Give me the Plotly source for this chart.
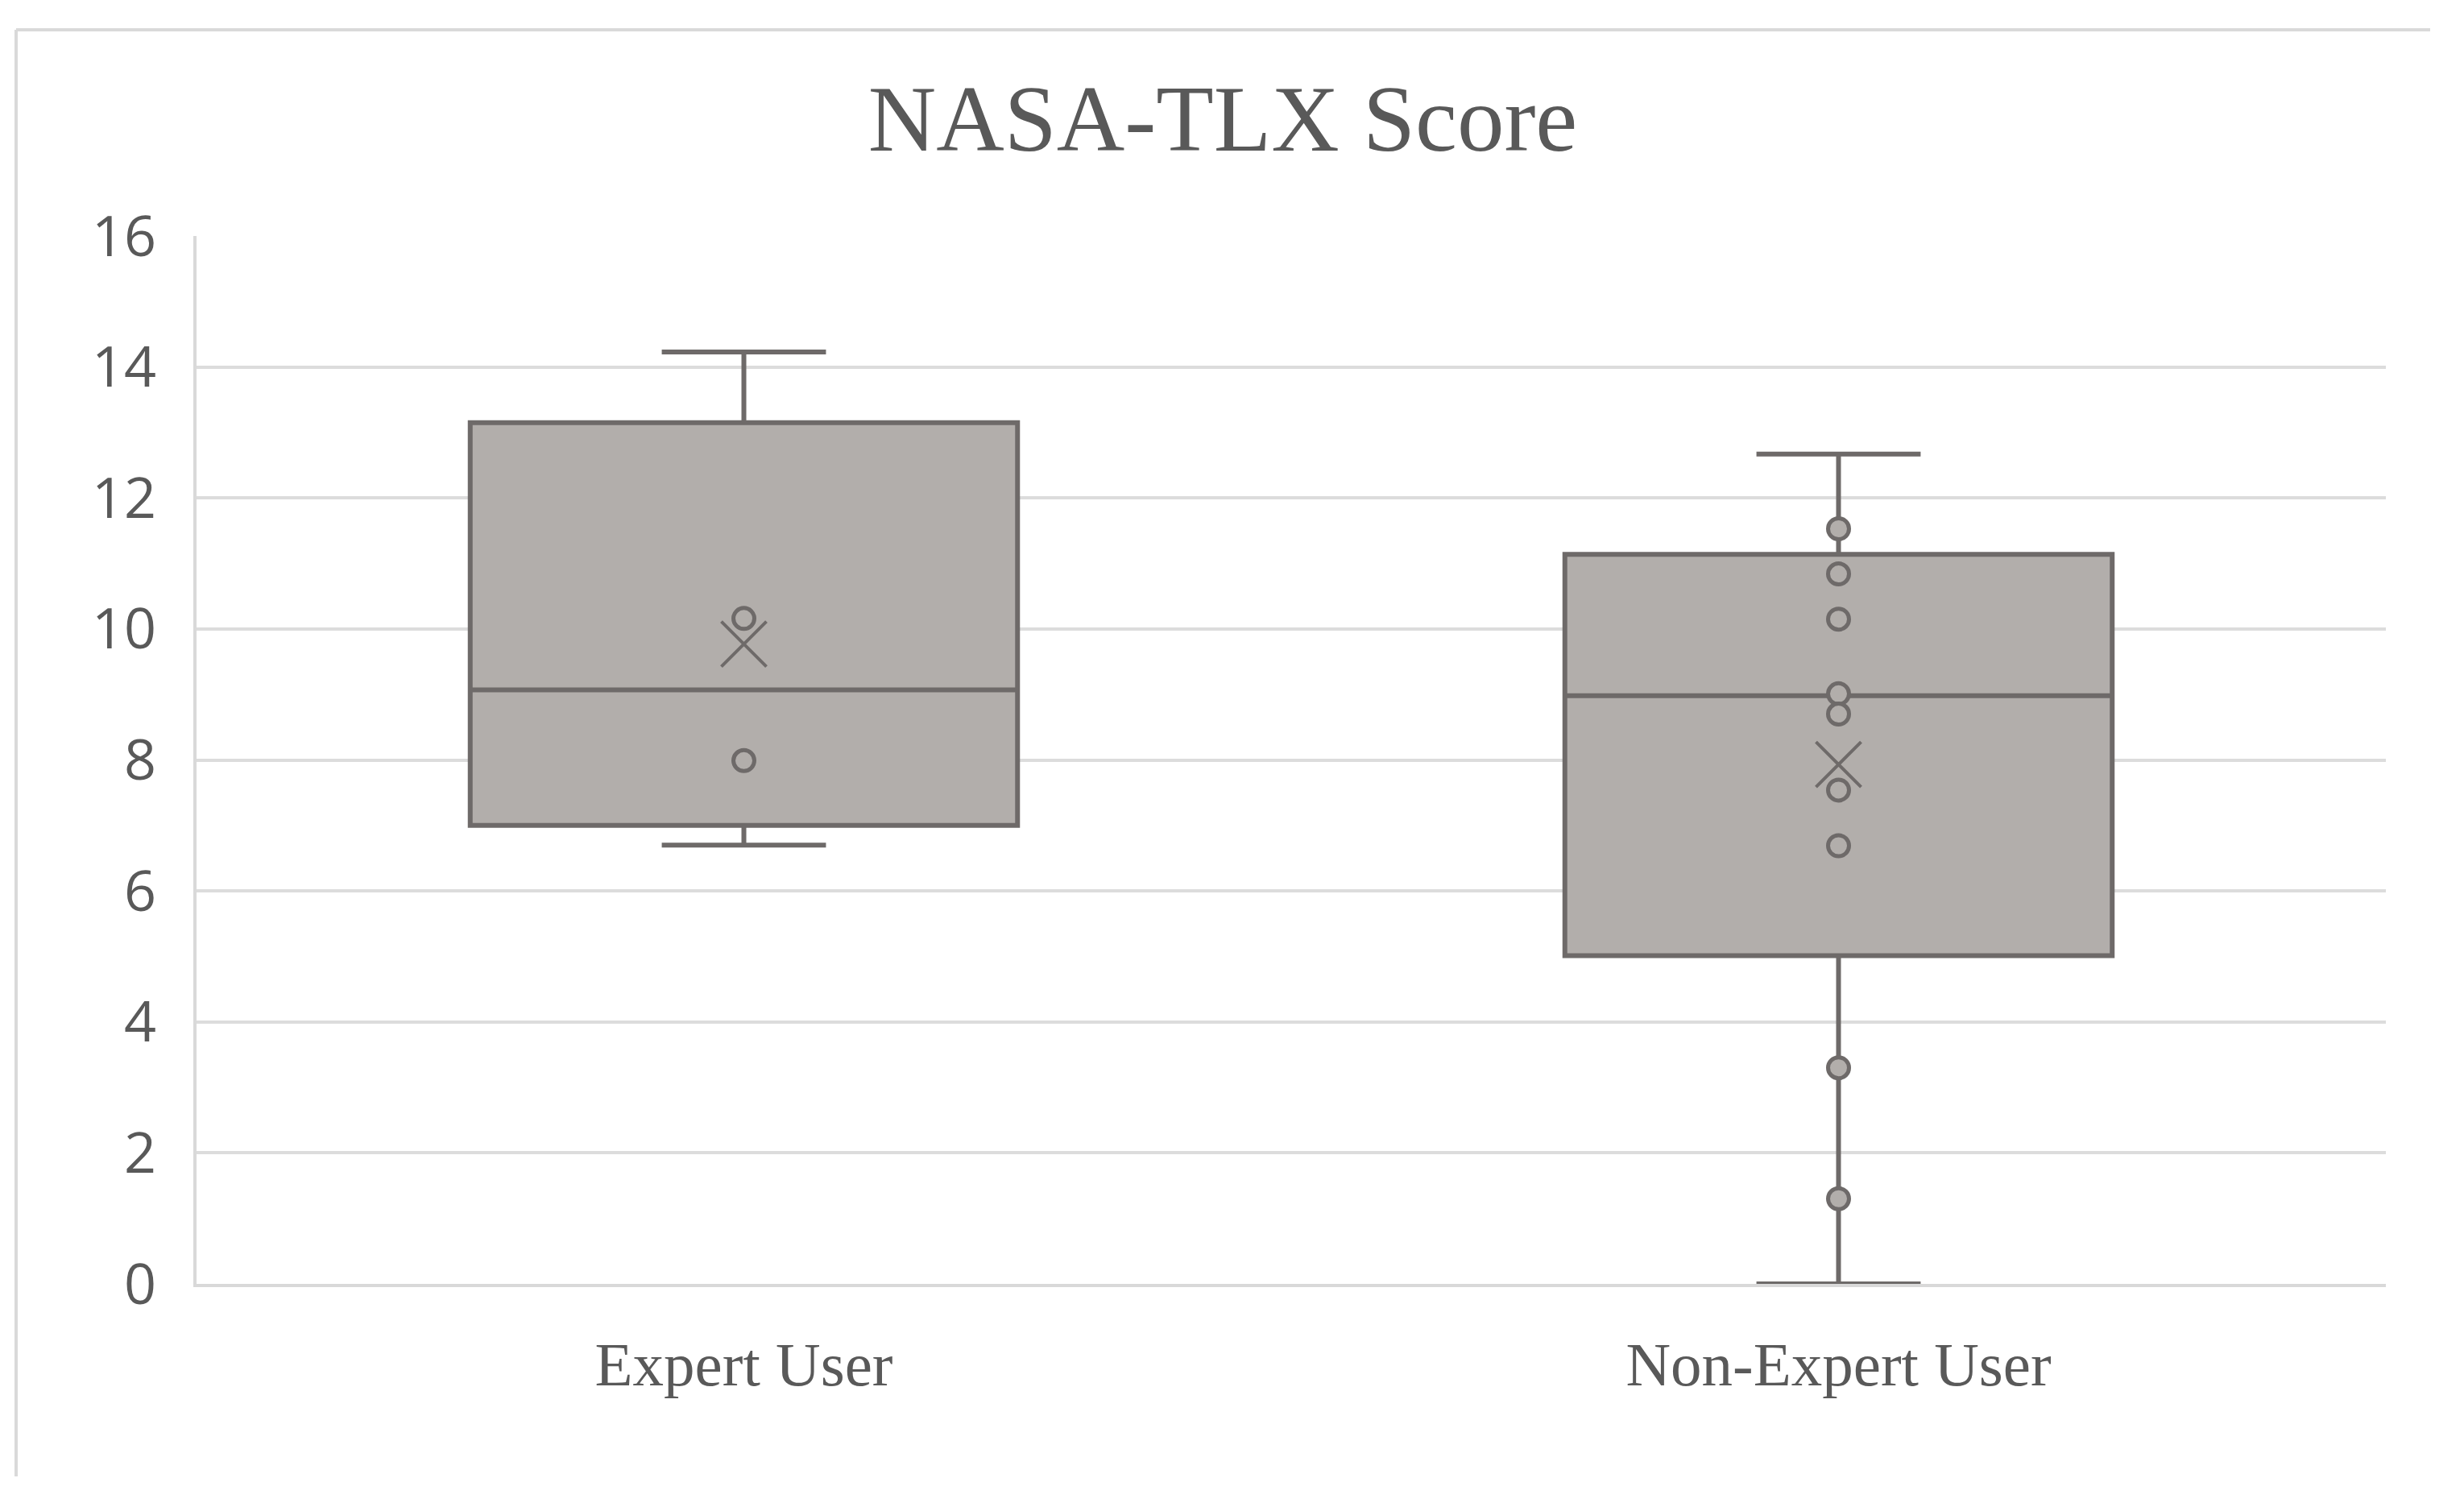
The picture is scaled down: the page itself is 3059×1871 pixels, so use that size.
import plotly.graph_objects as go

# ---- data ----
categories = ["Expert User", "Non-Expert User"]
q1_vals = [7.00, 5.01]
median_vals = [9.07, 8.98]
q3_vals = [13.15, 11.14]
lower_whisker = [6.70, 0.00]
upper_whisker = [14.23, 12.67]
mean_vals = [9.77, 7.93]

expert_points = [10.16, 7.99]
nonexpert_points = [11.53, 10.84, 10.15, 9.01, 8.70, 7.54, 6.69, 3.30, 1.30]

y_ticks = [0, 2, 4, 6, 8, 10, 12, 14, 16]

# ---- styles ----
BOX_FILL = "#b2aeab"
BOX_LINE = "#6e6a69"
GRID = "#dcdcdc"
TEXT = "#595959"

fig = go.Figure()

fig.add_trace(go.Box(
    x=categories,
    q1=q1_vals,
    median=median_vals,
    q3=q3_vals,
    lowerfence=lower_whisker,
    upperfence=upper_whisker,
    boxpoints=False,
    fillcolor=BOX_FILL,
    line=dict(color=BOX_LINE, width=6),
    width=0.5,
    whiskerwidth=0.3,
    showlegend=False,
    hoverinfo="skip",
))

pts_x = [categories[0]] * len(expert_points) + [categories[1]] * len(nonexpert_points)
pts_y = expert_points + nonexpert_points
fig.add_trace(go.Scatter(
    x=pts_x, y=pts_y, mode="markers",
    marker=dict(symbol="circle", size=26, color=BOX_FILL,
                line=dict(color=BOX_LINE, width=5)),
    showlegend=False, hoverinfo="skip",
))

fig.add_trace(go.Scatter(
    x=categories, y=mean_vals, mode="markers",
    marker=dict(symbol="x-thin", size=56, color=BOX_LINE,
                line=dict(color=BOX_LINE, width=4)),
    showlegend=False, hoverinfo="skip",
))

# the page body has an 8px default margin; size the figure to fit inside it
OFF = 8
W, H = 3059 - OFF, 1871 - OFF
L, R, T, B = 244 - OFF, 97, 293 - OFF, 277
pw, ph = W - L - R, H - T - B

def px_x(x):
    return (x - OFF - L) / pw

def px_y(y):
    return (H - B - (y - OFF)) / ph

# outer chart-area border (top and left edges visible)
fig.add_shape(type="line", xref="paper", yref="paper",
              x0=px_x(20), x1=px_x(3017), y0=px_y(37), y1=px_y(37),
              line=dict(color="#d9d9d9", width=4))
fig.add_shape(type="line", xref="paper", yref="paper",
              x0=px_x(20), x1=px_x(20), y0=px_y(37), y1=px_y(1833),
              line=dict(color="#d9d9d9", width=4))

fig.update_layout(
    width=W, height=H,
    margin=dict(l=L, r=R, t=T, b=B),
    paper_bgcolor="white",
    plot_bgcolor="white",
    title=dict(
        text="NASA-TLX Score",
        x=(1518 - OFF) / W, xanchor="center",
        y=1 - (146 - OFF) / H, yanchor="middle",
        font=dict(family="Liberation Serif", size=117, color=TEXT),
    ),
    xaxis=dict(
        type="category",
        categoryorder="array", categoryarray=categories,
        range=[-0.5, 1.5],
        showgrid=False,
        showline=True, linecolor="#d9d9d9", linewidth=4,
        ticks="",
        tickfont=dict(family="Liberation Serif", size=77, color=TEXT),
        ticklabelstandoff=30,
        zeroline=False,
    ),
    yaxis=dict(
        range=[0, 16],
        tickvals=y_ticks,
        showgrid=True, gridcolor=GRID, gridwidth=4,
        showline=True, linecolor="#d9d9d9", linewidth=4,
        ticks="",
        tickfont=dict(family="Open Sans", size=70, color=TEXT),
        ticklabelstandoff=32,
        zeroline=False,
    ),
)

fig.write_html("out.html")
